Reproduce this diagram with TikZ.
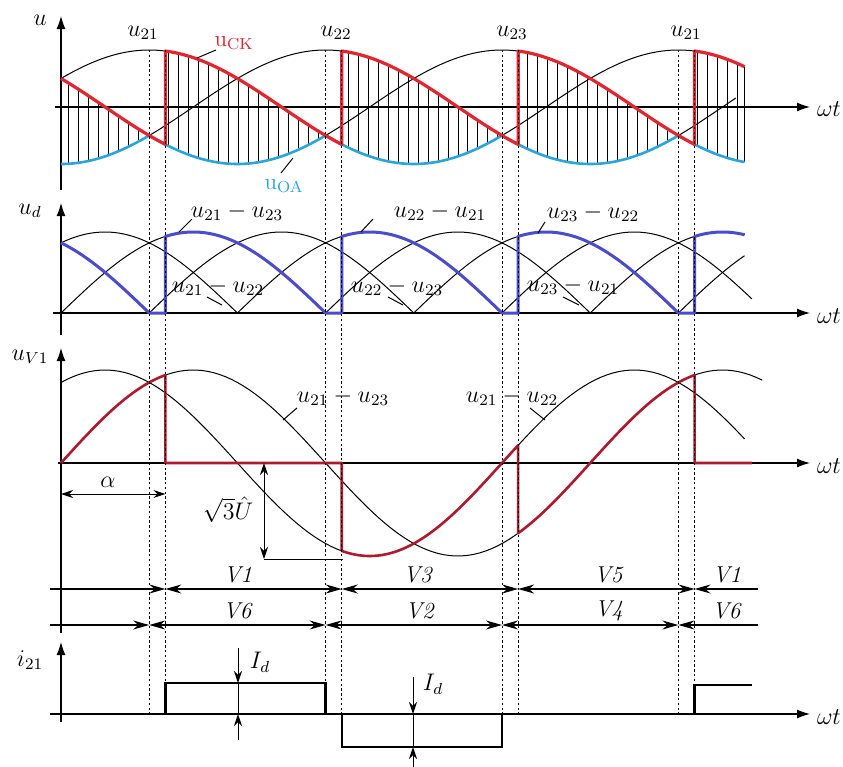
\documentclass[tikz,border=0pt]{standalone}
\usetikzlibrary{arrows.meta}
\definecolor{ckred}{RGB}{226,38,48}
\definecolor{oablue}{RGB}{40,165,220}
\definecolor{udblue}{RGB}{75,75,205}
\definecolor{vred}{RGB}{175,25,45}
\begin{document}
\begin{tikzpicture}[
        x=0.5pt, y=-0.5pt,
        font=\fontsize{11.5}{13}\selectfont,
        phase/.style={shift={(61,0)}, x=0.735pt},
        waxis/.style={line width=0.6pt, -{Latex[length=6.5pt,width=4.5pt]}},
        wave/.style={black, line width=0.5pt},
        uck/.style={draw=ckred, line width=1.6pt, line join=round},
        uoa/.style={draw=oablue, line width=1.3pt, line join=round},
        udwave/.style={draw=udblue, line width=1.5pt, line join=round},
        vwave/.style={draw=vred, line width=1.3pt, line join=round},
        hatch/.style={black, line width=0.4pt},
        commut/.style={black, line width=0.5pt, dash pattern=on 1.2pt off 1.2pt},
        vspan/.style={line width=0.6pt, {Stealth[length=8pt,width=4.5pt]}-{Stealth[length=8pt,width=4.5pt]}},
        vend/.style={line width=0.6pt, -{Stealth[length=8pt,width=4.5pt]}},
        dimen/.style={line width=0.5pt, {Stealth[length=6pt,width=4pt]}-{Stealth[length=6pt,width=4pt]}},
        tick/.style={line width=0.5pt, -{Stealth[length=6pt,width=4pt]}},
        leader/.style={line width=0.5pt},
        ]
    \useasboundingbox (0,0) rectangle (843,767);

    % axes
    \draw[waxis] (61,190) -- (61,16);
    \draw[waxis] (55,107) -- (810,107);
    \draw[waxis] (61,335) -- (61,203);
    \draw[waxis] (53,313) -- (810,313);
    \draw[waxis] (61,633) -- (61,348);
    \draw[waxis] (58,463) -- (810,463);
    \draw[waxis] (61,722) -- (61,642);
    \draw[waxis] (50,714) -- (810,714);
    \node (lu) at (40,20) {$u$};
    \node (lud) at (30,211) {$u_d$};
    \node (luv) at (30,357) {$u_{V1}$};
    \node (li) at (30,660) {$i_{21}$};
    \foreach \yy/\nm in {109/wta, 316/wtb, 466/wtc, 717/wtd}
        \node (\nm) at (829,\yy) {$\omega t$};

    \begin{scope}[phase]
        % hatching between u_ck and u_oa
        \foreach \t in {4.8,11.6,...,462} {
            \pgfmathsetmacro\rt{107-57*sin(Mod(\t-71,120)+101)}
            \pgfmathsetmacro\bt{107-57*sin(Mod(\t-60,120)+210)}
            \draw[hatch] (\t,\rt) -- (\t,\bt);
        }
        \draw[hatch] (465,{107-57*sin(495)}) -- (465,{107-57*sin(615)});
        % phase voltages
        \draw[wave] plot[domain=0:71,samples=30] (\x,{107-57*sin(\x+30)});
        \draw[wave] plot[domain=60:191,samples=50] (\x,{107-57*sin(\x-90)});
        \draw[wave] plot[domain=180:311,samples=50] (\x,{107-57*sin(\x+150)});
        \draw[wave] plot[domain=300:431,samples=50] (\x,{107-57*sin(\x+30)});
        \draw[wave] plot[domain=420:459,samples=20] (\x,{107-57*sin(\x-90)});
        \draw[uoa] plot[domain=0:60,samples=30] (\x,{107-57*sin(\x-90)})
            -- plot[domain=60:180,samples=50] (\x,{107-57*sin(\x+150)})
            -- plot[domain=180:300,samples=50] (\x,{107-57*sin(\x+30)})
            -- plot[domain=300:420,samples=50] (\x,{107-57*sin(\x-90)})
            -- plot[domain=420:465,samples=20] (\x,{107-57*sin(\x+150)});
        \draw[uck] plot[domain=0:71,samples=30] (\x,{107-57*sin(\x+150)})
            -- plot[domain=71:191,samples=50] (\x,{107-57*sin(\x+30)})
            -- plot[domain=191:311,samples=50] (\x,{107-57*sin(\x-90)})
            -- plot[domain=311:431,samples=50] (\x,{107-57*sin(\x+150)})
            -- plot[domain=431:465,samples=20] (\x,{107-57*sin(\x+30)});

        % line voltages, rectified
        \draw[wave] plot[domain=0:465,samples=187] (\x,{313-81*abs(sin(\x))});
        \draw[wave] plot[domain=0:470,samples=189] (\x,{313-81*abs(sin(\x+60))});
        \draw[wave] plot[domain=0:465,samples=187] (\x,{313-81*abs(sin(\x+120))});
        \draw[udwave] plot[domain=0:60,samples=30] (\x,{313-81*sin(\x+120)})
            -- (71,313) -- plot[domain=71:180,samples=50] (\x,{313-81*sin(\x)})
            -- (191,313) -- plot[domain=191:300,samples=50] (\x,{313-81*sin(\x-120)})
            -- (311,313) -- plot[domain=311:420,samples=50] (\x,{313-81*sin(\x-240)})
            -- (431,313) -- plot[domain=431:465,samples=20] (\x,{313-81*sin(\x-360)});

        % voltage across V1
        \draw[wave] plot[domain=0:465,samples=120] (\x,{463-93*sin(\x+60)});
        \draw[wave] plot[domain=0:477,samples=120] (\x,{463-93*sin(\x)});
        \draw[vwave] plot[domain=0:71,samples=30] (\x,{463-93*sin(\x)})
            -- (71,463) -- (191,463)
            -- plot[domain=191:311,samples=50] (\x,{463-93*sin(\x+60)})
            -- plot[domain=311:431,samples=50] (\x,{463-93*sin(\x)})
            -- (431,463) -- (470,463);
        \draw[dimen] (0,494) -- (71,494);

        % current of phase 21
        \draw[line width=1.2pt] (0,714) -- (71,714) -- (71,683) -- (180,683)
            -- (180,714) -- (191,714) -- (191,747) -- (300,747) -- (300,714)
            -- (431,714) -- (431,685) -- (470,685);

        % conduction intervals
        \draw[vend] (-7.5,589) -- (71,589);
        \foreach \a/\b in {71/191, 191/311, 311/431}
            \draw[vspan] (\a,589) -- (\b,589);
        \draw[vend] (474,589) -- (431,589);
        \draw[vend] (-7.5,625) -- (60,625);
        \foreach \a/\b in {60/180, 180/300, 300/420}
            \draw[vspan] (\a,625) -- (\b,625);
        \draw[vend] (474,625) -- (420,625);

        % commutation instants
        \foreach \t in {60,71,180,191,300,311,420,431}
            \draw[commut] (\t,50) -- (\t,716);
    \end{scope}

    % labels of the top panel
    \foreach \xx/\nm/\ph in {143/pa/21, 336/pb/22, 512/pc/23, 686/pd/21}
        \node (\nm) at (\xx,33) {$u_{\ph}$};
    \node[text=ckred] (lck) at (234,43) {u$_{\mathrm{CK}}$};
    \node[text=oablue] (loa) at (284,186) {u$_{\mathrm{OA}}$};
    \coordinate (ck1) at (216,50);
    \coordinate (ck2) at (197,58);
    \draw[leader] (ck1) -- (ck2);
    \coordinate (oa1) at (281,173);
    \coordinate (oa2) at (293,158);
    \draw[leader] (oa1) -- (oa2);

    % labels of u_d
    \node (da) at (237,212) {$u_{21}-u_{23}$};
    \node (db) at (440,212) {$u_{22}-u_{21}$};
    \node (dc) at (593,213) {$u_{23}-u_{22}$};
    \node (dd) at (218,287) {$u_{21}-u_{22}$};
    \node (de) at (397,287) {$u_{22}-u_{23}$};
    \node (df) at (573,286) {$u_{23}-u_{21}$};
    \draw[leader] (192,219) -- (179,232);
    \draw[leader] (373,219) -- (361,232);
    \draw[leader] (545,222) -- (538,233);
    \draw[leader] (207,297) -- (222,305);
    \draw[leader] (388,297) -- (403,305);
    \draw[leader] (563,297) -- (579,305);

    % labels of u_V1
    \node (va) at (343,397) {$u_{21}-u_{23}$};
    \node (vb) at (512,397) {$u_{21}-u_{22}$};
    \draw[leader] (297,408) -- (283,420);
    \draw[leader] (530,408) -- (545,420);
    \node (lal) at (108,482) {$\alpha$};
    \coordinate (ua) at (264,463);
    \coordinate (ub) at (264,559);
    \draw[dimen] (ua) -- (ub);
    \draw[leader] (ub) -- (343,559);
    \node[inner sep=1pt] (lsq) at (228,510) {$\sqrt{3}\hat{U}$};

    % thyristor names
    \foreach \xx/\nm/\tx in {238/ta/1, 418/tb/3, 609/tc/5, 727/td/1}
        \node (\nm) at (\xx,575) {\textit{V\tx}};
    \foreach \xx/\nm/\tx in {238/te/6, 420/tf/2, 609/tg/4, 727/th/6}
        \node (\nm) at (\xx,611) {\textit{V\tx}};

    % I_d marks
    \draw[tick] (238,648) -- (238,683);
    \draw[tick] (238,740) -- (238,714);
    \draw[leader] (238,683) -- (238,714);
    \node (lid) at (260,662) {$I_d$};
    \draw[tick] (413,677) -- (413,714);
    \draw[tick] (413,767) -- (413,747);
    \draw[leader] (413,714) -- (413,747);
    \node (lie) at (433,684) {$I_d$};
\end{tikzpicture}
\end{document}
